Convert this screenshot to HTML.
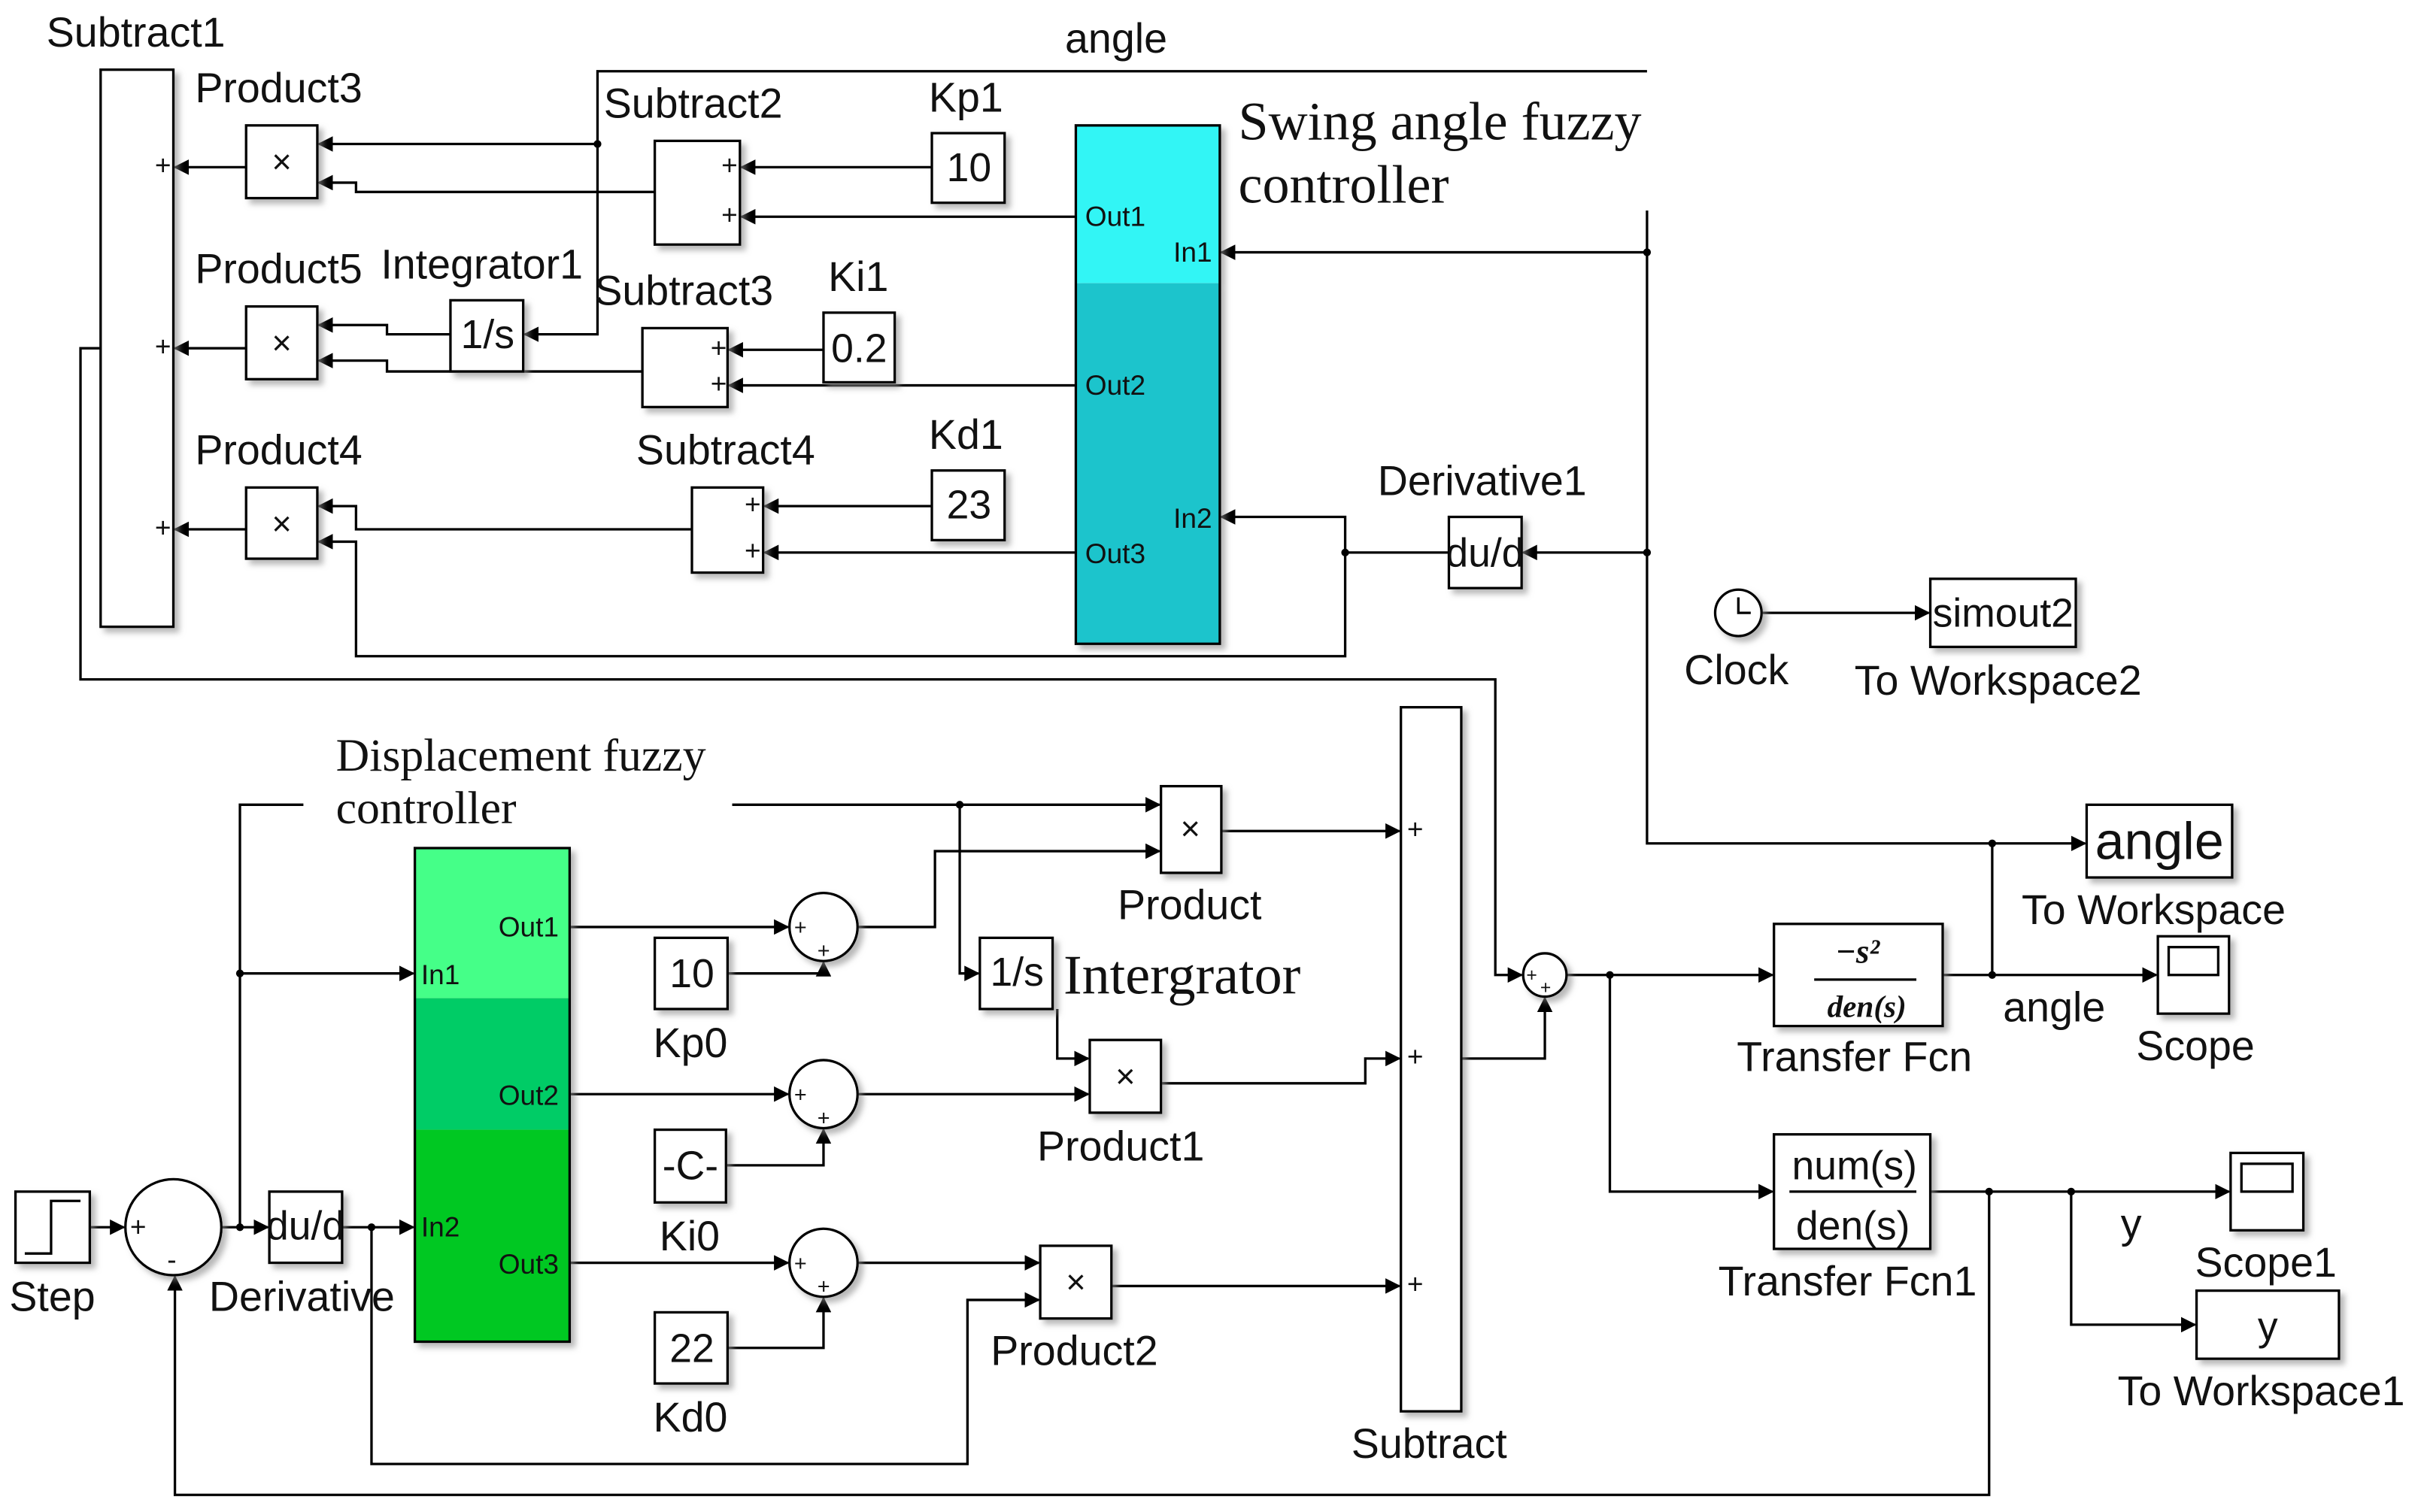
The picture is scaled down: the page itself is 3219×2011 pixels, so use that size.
<!DOCTYPE html>
<html><head><meta charset="utf-8"><style>
html,body{margin:0;padding:0;background:#fff;}
svg{display:block;}
text{font-family:"Liberation Sans",sans-serif;fill:#111;}
.s{font-family:"Liberation Serif",serif;}
</style></head><body>
<svg width="3219" height="2011" viewBox="0 0 1564 977" xmlns="http://www.w3.org/2000/svg">
<defs>
<marker id="a" markerWidth="10" markerHeight="10" refX="9" refY="5" orient="auto" markerUnits="userSpaceOnUse"><path d="M0,0 L10,5 L0,10 z" fill="#000"/></marker>
<filter id="sh" x="-20%" y="-20%" width="150%" height="150%"><feDropShadow dx="3" dy="3" stdDeviation="2" flood-color="#888" flood-opacity="0.6"/></filter>
</defs>
<g fill="none" stroke="#000" stroke-width="1.6">
<path d="M159,108 H113" marker-end="url(#a)"/>
<path d="M159,225 H113" marker-end="url(#a)"/>
<path d="M159,342 H113" marker-end="url(#a)"/>
<path d="M386,93 H206" marker-end="url(#a)"/>
<path d="M1064,46 H386 V216 H339" marker-end="url(#a)"/>
<path d="M423,124 H230 V118 H206" marker-end="url(#a)"/>
<path d="M602,108 H479" marker-end="url(#a)"/>
<path d="M695,140 H479" marker-end="url(#a)"/>
<path d="M291,216 H250 V210 H206" marker-end="url(#a)"/>
<path d="M415,240 H250 V233 H206" marker-end="url(#a)"/>
<path d="M532,226 H471" marker-end="url(#a)"/>
<path d="M695,249 H471" marker-end="url(#a)"/>
<path d="M447,342 H230 V327 H206" marker-end="url(#a)"/>
<path d="M869,357 V424 H230 V350 H206" marker-end="url(#a)"/>
<path d="M602,327 H494" marker-end="url(#a)"/>
<path d="M695,357 H494" marker-end="url(#a)"/>
<path d="M1064,135 V545 H1347" marker-end="url(#a)"/>
<path d="M1064,163 H789" marker-end="url(#a)"/>
<path d="M1064,357 H984" marker-end="url(#a)"/>
<path d="M936,357 H869 V334 H789" marker-end="url(#a)"/>
<path d="M65,225 H52 V439 H966 V630 H983" marker-end="url(#a)"/>
<path d="M1138,396 H1246" marker-end="url(#a)"/>
<path d="M58,793 H80" marker-end="url(#a)"/>
<path d="M143,793 H173" marker-end="url(#a)"/>
<path d="M221,793 H267" marker-end="url(#a)"/>
<path d="M155,793 V520 H196"/>
<path d="M155,629 H267" marker-end="url(#a)"/>
<path d="M473,520 H749" marker-end="url(#a)"/>
<path d="M620,520 V629 H632" marker-end="url(#a)"/>
<path d="M368,599 H509" marker-end="url(#a)"/>
<path d="M470,629 H532 V622" marker-end="url(#a)"/>
<path d="M554,599 H604 V550 H749" marker-end="url(#a)"/>
<path d="M789,537 H904" marker-end="url(#a)"/>
<path d="M683,652 V684 H703" marker-end="url(#a)"/>
<path d="M368,707 H509" marker-end="url(#a)"/>
<path d="M469,753 H532 V730" marker-end="url(#a)"/>
<path d="M554,707 H703" marker-end="url(#a)"/>
<path d="M750,700 H882 V684 H904" marker-end="url(#a)"/>
<path d="M368,816 H509" marker-end="url(#a)"/>
<path d="M470,871 H532 V839" marker-end="url(#a)"/>
<path d="M554,816 H671" marker-end="url(#a)"/>
<path d="M240,793 V946 H625 V840 H671" marker-end="url(#a)"/>
<path d="M718,831 H904" marker-end="url(#a)"/>
<path d="M944,684 H998 V645" marker-end="url(#a)"/>
<path d="M1012,630 H1145" marker-end="url(#a)"/>
<path d="M1040,630 V770 H1145" marker-end="url(#a)"/>
<path d="M1255,630 H1393" marker-end="url(#a)"/>
<path d="M1287,630 V545"/>
<path d="M1247,770 H1440" marker-end="url(#a)"/>
<path d="M1338,770 V856 H1418" marker-end="url(#a)"/>
<path d="M1285,770 V966 H113 V825" marker-end="url(#a)"/>
</g>
<g fill="#000">
<circle cx="386" cy="93" r="2.5"/><circle cx="1064" cy="163" r="2.5"/><circle cx="1064" cy="357" r="2.5"/>
<circle cx="869" cy="357" r="2.5"/><circle cx="155" cy="793" r="2.5"/><circle cx="155" cy="629" r="2.5"/>
<circle cx="240" cy="793" r="2.5"/><circle cx="620" cy="520" r="2.5"/><circle cx="1040" cy="630" r="2.5"/>
<circle cx="1287" cy="630" r="2.5"/><circle cx="1287" cy="545" r="2.5"/><circle cx="1285" cy="770" r="2.5"/><circle cx="1338" cy="770" r="2.5"/>
</g>
<g stroke="#000" stroke-width="1.6" fill="#fff" filter="url(#sh)">
<rect x="65" y="45" width="47" height="360"/>
<rect x="159" y="81" width="46" height="47"/>
<rect x="159" y="198" width="46" height="47"/>
<rect x="159" y="315" width="46" height="46"/>
<rect x="423" y="91" width="55" height="67"/>
<rect x="415" y="212" width="55" height="51"/>
<rect x="447" y="315" width="46" height="55"/>
<rect x="602" y="86" width="47" height="45"/>
<rect x="532" y="202" width="46" height="45"/>
<rect x="602" y="304" width="47" height="45"/>
<rect x="291" y="194" width="47" height="46"/>
<rect x="936" y="334" width="47" height="46"/>
<rect x="1247" y="374" width="94" height="44"/>
<rect x="10" y="770" width="48" height="46"/>
<rect x="174" y="770" width="47" height="46"/>
<rect x="423" y="606" width="47" height="46"/>
<rect x="423" y="730" width="46" height="47"/>
<rect x="423" y="848" width="47" height="46"/>
<rect x="633" y="606" width="47" height="46"/>
<rect x="750" y="508" width="39" height="56"/>
<rect x="704" y="672" width="46" height="47"/>
<rect x="672" y="805" width="46" height="47"/>
<rect x="905" y="457" width="39" height="455"/>
<rect x="1146" y="597" width="109" height="66"/>
<rect x="1146" y="733" width="101" height="74"/>
<rect x="1348" y="520" width="94" height="47"/>
<rect x="1394" y="605" width="46" height="50"/>
<rect x="1441" y="745" width="47" height="50"/>
<rect x="1419" y="834" width="92" height="44"/>
<circle cx="112" cy="793" r="31"/>
<circle cx="532" cy="599" r="22"/>
<circle cx="532" cy="707" r="22"/>
<circle cx="532" cy="816" r="22"/>
<circle cx="998" cy="630" r="14"/>
<circle cx="1123" cy="396" r="15"/>
</g>
<g filter="url(#sh)">
<rect x="695" y="81" width="93" height="102" fill="#33f5f5"/>
<rect x="695" y="183" width="93" height="233" fill="#1dc4cc"/>
<rect x="695" y="81" width="93" height="335" fill="none" stroke="#000" stroke-width="1.6"/>
<rect x="268" y="548" width="100" height="97" fill="#44ff88"/>
<rect x="268" y="645" width="100" height="85" fill="#00cc66"/>
<rect x="268" y="730" width="100" height="137" fill="#00c822"/>
<rect x="268" y="548" width="100" height="319" fill="none" stroke="#000" stroke-width="1.6"/>
</g>
<g fill="none" stroke="#000" stroke-width="1.6">
<path d="M1123,386 V396 H1131"/>
<path d="M16,810 H33 V776 H52"/>
<rect x="1401" y="612" width="32" height="18"/>
<rect x="1448" y="752" width="33" height="18"/>
<path d="M1172,633 H1238"/><path d="M1156,770 H1238"/>
</g>
<g font-size="18">
<text x="100" y="113">+</text><text x="100" y="230">+</text><text x="100" y="347">+</text>
<text x="466" y="113">+</text><text x="466" y="145">+</text>
<text x="459" y="231">+</text><text x="459" y="254">+</text>
<text x="481" y="332">+</text><text x="481" y="362">+</text>
<text x="909" y="542">+</text><text x="909" y="689">+</text><text x="909" y="836">+</text>
<text x="84" y="799">+</text><text x="108" y="820">-</text>
<text x="513" y="604" font-size="14">+</text><text x="528" y="619" font-size="14">+</text>
<text x="513" y="712" font-size="14">+</text><text x="528" y="727" font-size="14">+</text>
<text x="513" y="821" font-size="14">+</text><text x="528" y="836" font-size="14">+</text>
<text x="986" y="634" font-size="12">+</text><text x="995" y="642" font-size="12">+</text>
</g>
<g font-size="22" text-anchor="middle">
<text x="182" y="112">×</text><text x="182" y="229">×</text><text x="182" y="346">×</text>
<text x="769" y="543">×</text><text x="727" y="703">×</text><text x="695" y="836">×</text>
</g>
<g font-size="26" text-anchor="middle">
<text x="626" y="117">10</text><text x="555" y="234">0.2</text><text x="626" y="335">23</text>
<text x="315" y="225">1/s</text><text x="657" y="637">1/s</text>
<text x="447" y="638">10</text><text x="446" y="762">-C-</text><text x="447" y="880">22</text>
<text x="1294" y="405">simout2</text><text x="1465" y="866">y</text>
<text x="1198" y="762">num(s)</text><text x="1197" y="801">den(s)</text>
</g>
<svg x="936" y="334" width="47" height="46" overflow="hidden"><text x="-2" y="32" font-size="26">du/dt</text></svg>
<svg x="174" y="770" width="47" height="46" overflow="hidden"><text x="-2" y="31" font-size="26">du/dt</text></svg>
<text x="1395" y="555" font-size="34" text-anchor="middle">angle</text>
<text x="1200" y="622" class="s" font-size="22" font-style="italic" font-weight="bold" text-anchor="middle">−s²</text>
<text x="1206" y="657" class="s" font-size="20" font-style="italic" font-weight="bold" text-anchor="middle">den(s)</text>
<g font-size="18">
<text x="701" y="146">Out1</text><text x="758" y="169">In1</text><text x="701" y="255">Out2</text>
<text x="758" y="341">In2</text><text x="701" y="364">Out3</text>
<text x="322" y="605">Out1</text><text x="272" y="636">In1</text><text x="322" y="714">Out2</text>
<text x="272" y="799">In2</text><text x="322" y="823">Out3</text>
</g>
<g font-size="27">
<text x="30" y="30">Subtract1</text><text x="126" y="66">Product3</text><text x="390" y="76">Subtract2</text>
<text x="688" y="34">angle</text><text x="600" y="72">Kp1</text>
<text x="126" y="183">Product5</text><text x="246" y="180">Integrator1</text><text x="384" y="197">Subtract3</text>
<text x="535" y="188">Ki1</text><text x="126" y="300">Product4</text><text x="411" y="300">Subtract4</text>
<text x="600" y="290">Kd1</text><text x="890" y="320">Derivative1</text>
<text x="1088" y="442">Clock</text><text x="1198" y="449">To Workspace2</text>
<text x="722" y="594">Product</text><text x="670" y="750">Product1</text><text x="640" y="882">Product2</text>
<text x="422" y="683">Kp0</text><text x="426" y="808">Ki0</text><text x="422" y="925">Kd0</text>
<text x="6" y="847">Step</text><text x="135" y="847">Derivative</text><text x="873" y="942">Subtract</text>
<text x="1122" y="692">Transfer Fcn</text><text x="1294" y="660">angle</text><text x="1306" y="597">To Workspace</text>
<text x="1380" y="685">Scope</text><text x="1110" y="837">Transfer Fcn1</text><text x="1370" y="800">y</text>
<text x="1418" y="825">Scope1</text><text x="1368" y="908">To Workspace1</text>
</g>
<rect x="796" y="52" width="272" height="84" fill="#fff"/>
<text x="800" y="90" class="s" font-size="35">Swing angle fuzzy</text>
<text x="800" y="131" class="s" font-size="35">controller</text>
<text x="217" y="498" class="s" font-size="30">Displacement fuzzy</text>
<text x="217" y="532" class="s" font-size="30">controller</text>
<text x="687" y="642" class="s" font-size="36">Intergrator</text>
</svg>
</body></html>
